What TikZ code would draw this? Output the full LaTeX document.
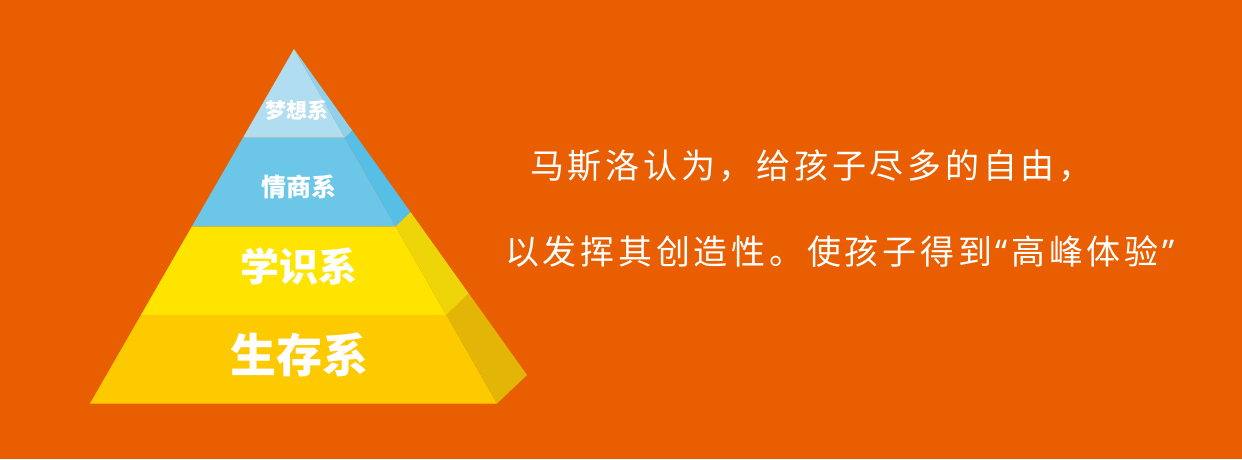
\documentclass[tikz,border=0pt]{standalone}
\usepackage{fontspec}
\newfontfamily\cjk{Noto Sans CJK SC}
\newfontfamily\cjkspaced[LetterSpace=11]{Noto Sans CJK SC}
\newfontfamily\latinq[LetterSpace=11]{Noto Sans}
\usetikzlibrary{calc}
\definecolor{bg}{RGB}{232,94,0}
\definecolor{f1}{RGB}{176,221,239}
\definecolor{s1}{RGB}{143,208,234}
\definecolor{f2}{RGB}{108,198,232}
\definecolor{s2}{RGB}{87,191,230}
\definecolor{f3}{RGB}{255,228,0}
\definecolor{s3}{RGB}{238,213,10}
\definecolor{f4}{RGB}{253,202,0}
\definecolor{s4}{RGB}{226,181,6}
\tikzset{
  layerlabel/.style={text=white, font=\cjk\bfseries, inner sep=0pt, anchor=center},
  bodytext/.style={text=white, anchor=west, inner sep=0pt}
}
\begin{document}
\begin{tikzpicture}[x=1pt,y=-1pt]
\fill[bg] (0,0) rectangle (1242,459);
\useasboundingbox (0,0) rectangle (1242,459);
\coordinate (A) at (294,49);
\coordinate (L) at (90,403.5);
\coordinate (R) at (497,403.5);
\coordinate (B) at (527,375);
% level points
\foreach \t/\n in {0/0,0.25/1,0.5/2,0.75/3}{
  \coordinate (L\n) at ($(L)!\t!(A)$);
  \coordinate (R\n) at ($(R)!\t!(A)$);
  \coordinate (B\n) at ($(B)!\t!(A)$);
}
% front faces
\fill[f4] (L0) -- (R0) -- (R1) -- (L1) -- cycle;
\fill[f3] (L1) -- (R1) -- (R2) -- (L2) -- cycle;
\fill[f2] (L2) -- (R2) -- (R3) -- (L3) -- cycle;
\fill[f1] (L3) -- (R3) -- (A) -- cycle;
% side faces
\fill[s4] (R0) -- (B0) -- (B1) -- (R1) -- cycle;
\fill[s3] (R1) -- (B1) -- (B2) -- (R2) -- cycle;
\fill[s2] (R2) -- (B2) -- (B3) -- (R3) -- cycle;
\fill[s1] (R3) -- (B3) -- (A) -- cycle;
% labels
\node[layerlabel, font=\cjk\bfseries\fontsize{21}{21}\selectfont] (l1) at (296.5,110.5) {梦想系};
\node[layerlabel, font=\cjk\bfseries\fontsize{25}{25}\selectfont] (l2) at (298.5,186.5) {情商系};
\node[layerlabel, font=\cjk\bfseries\fontsize{39}{39}\selectfont] (l3) at (299,266.5) {学识系};
\node[layerlabel, font=\cjk\bfseries\fontsize{46}{46}\selectfont] (l4) at (299,355) {生存系};
% body text
\node[bodytext, font=\cjkspaced\fontsize{34}{34}\selectfont] (t1) at (530,166) {马斯洛认为，给孩子尽多的自由，};
\node[bodytext, font=\cjkspaced\fontsize{34}{34}\selectfont] (t2) at (505,252) {以发挥其创造性。使孩子得到\kern3pt{\latinq “}\kern4pt 高峰体验\kern4pt{\latinq ”}};
\end{tikzpicture}
\end{document}
